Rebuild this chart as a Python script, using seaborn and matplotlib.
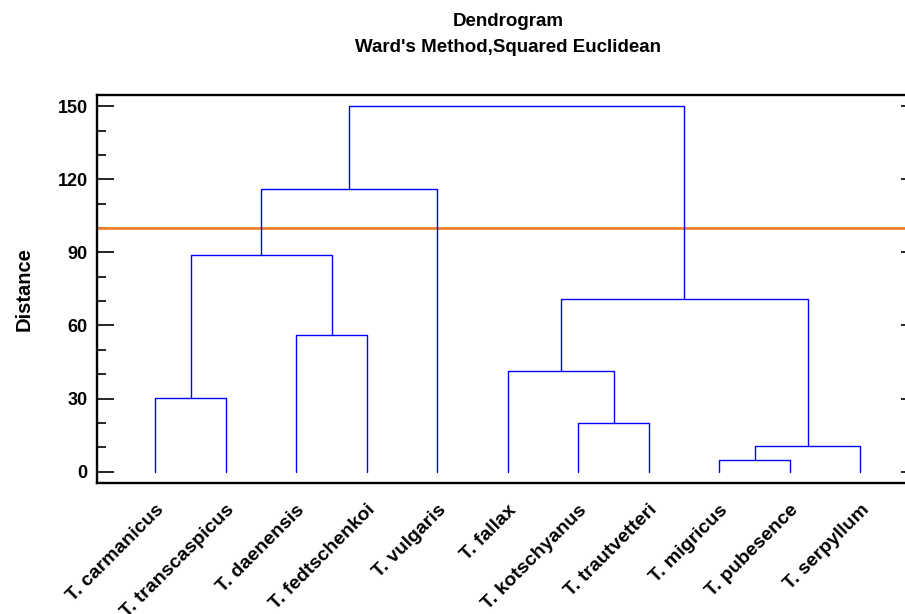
import matplotlib
matplotlib.use("Agg")
import matplotlib.pyplot as plt
from matplotlib.ticker import MultipleLocator
from matplotlib.transforms import ScaledTranslation
import numpy as np
import pandas as pd
import seaborn as sns

# ---- data ----
leaf_labels = ["T. carmanicus", "T. transcaspicus", "T. daenensis", "T. fedtschenkoi",
               "T. vulgaris", "T. fallax", "T. kotschyanus", "T. trautvetteri",
               "T. migricus", "T. pubesence", "T. serpyllum"]
# linkage: (left cluster id, right cluster id, merge distance); new ids start at 11
merge_left = [0, 8, 12, 6, 5, 2, 15, 11, 18, 19]
merge_right = [1, 9, 10, 7, 14, 3, 13, 16, 4, 17]
merge_height = [30.4, 4.6, 10.6, 20.0, 41.3, 56.2, 71.0, 89.0, 116.1, 150.0]
cut_level = 100.0
y_ticks = [0, 30, 60, 90, 120, 150]

# ---- build dendrogram segments ----
n = len(leaf_labels)
node_x = {i: float(i + 1) for i in range(n)}
node_h = {i: 0.0 for i in range(n)}
rows = []
for k, (a, b, h) in enumerate(zip(merge_left, merge_right, merge_height)):
    nid = n + k
    xa, xb = node_x[a], node_x[b]
    pts = [(xa, node_h[a]), (xa, h), (xb, h), (xb, node_h[b])]
    for order, (px, py) in enumerate(pts):
        rows.append({"seg": k, "order": order, "x": px, "y": py})
    node_x[nid] = (xa + xb) / 2
    node_h[nid] = h
df = pd.DataFrame(rows)

sns.set_style("ticks")
plt.rcParams["font.family"] = ["Liberation Sans", "DejaVu Sans"]
plt.rcParams["font.weight"] = "bold"
for key in ["text.color", "axes.labelcolor", "xtick.color", "ytick.color"]:
    plt.rcParams[key] = "black"

fig = plt.figure(figsize=(9.05, 6.14), dpi=100)
ax = fig.add_axes([0.1075, 0.2129, 0.9074, 0.6324])

sns.lineplot(data=df, x="x", y="y", units="seg", estimator=None, sort=False,
             color="#0000FF", linewidth=1.0, ax=ax, legend=False)
ax.axhline(cut_level, color="#F08030", linewidth=2.0, zorder=1)

ax.set_xlim(0.177, 11.823)
ax.set_ylim(-4.76, 154.6)
ax.set_xticks(np.arange(1, n + 1))
ax.set_xticklabels(leaf_labels, rotation=45, ha="right", va="top",
                   rotation_mode="anchor", fontsize=14, fontweight="bold")
shift = ScaledTranslation(-6 / 100, 0, fig.dpi_scale_trans)
for lbl in ax.get_xticklabels():
    lbl.set_transform(lbl.get_transform() + shift)
ax.set_yticks(y_ticks)
ax.set_yticklabels([str(t) for t in y_ticks], fontsize=13, fontweight="bold")
ax.yaxis.set_minor_locator(MultipleLocator(10))
ax.tick_params(axis="x", length=0, pad=13)
ax.tick_params(axis="y", which="major", direction="in", length=12, width=1.2,
               pad=7, left=True, right=True)
ax.tick_params(axis="y", which="minor", direction="in", length=6.5, width=1.2,
               left=True, right=True)
for s in ax.spines.values():
    s.set_visible(True)
    s.set_linewidth(1.7)
    s.set_color("black")

ax.set_xlabel("")
ax.set_ylabel("Distance", fontsize=14.5, fontweight="bold", labelpad=17.5)

fig.text(508 / 905, 1 - 22 / 614, "Dendrogram", ha="center", va="center",
         fontsize=13.5, fontweight="bold")
fig.text(508 / 905, 1 - 47 / 614, "Ward's Method,Squared Euclidean", ha="center",
         va="center", fontsize=13.5, fontweight="bold")

fig.savefig("out.png", dpi=100)
